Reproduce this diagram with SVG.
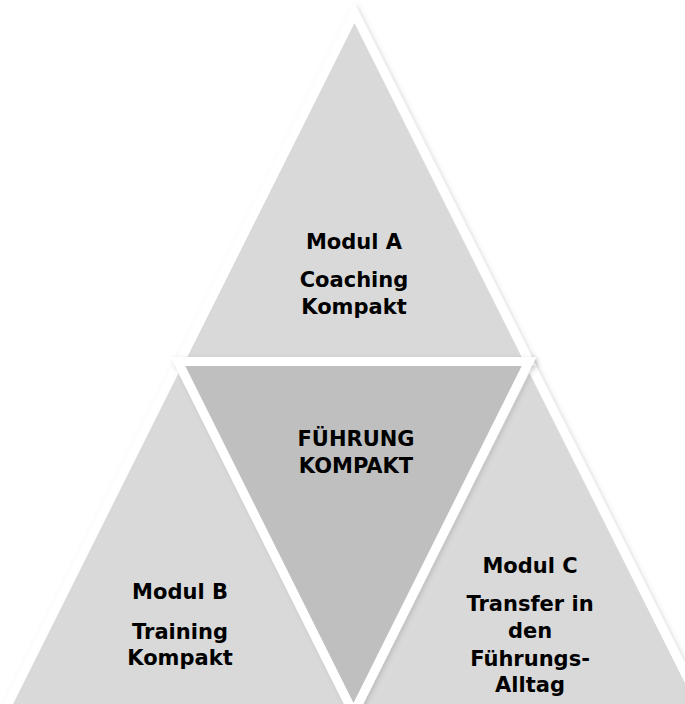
<svg xmlns="http://www.w3.org/2000/svg" width="685" height="704" viewBox="0 0 685 704">
  <defs>
    <filter id="shadow" x="-10%" y="-10%" width="120%" height="120%">
      <feDropShadow dx="2" dy="1.5" stdDeviation="2.5" flood-color="#000" flood-opacity="0.15"/>
    </filter>
  </defs>
  <style>
    .tri { stroke: #ffffff; stroke-width: 9; stroke-linejoin: miter; stroke-miterlimit: 10; filter: url(#shadow); }
    .light { fill: #d9d9d9; }
    .dark { fill: #bfbfbf; }
    .lbl { font-family: "DejaVu Sans", "Liberation Sans", sans-serif; font-weight: bold; font-size: 21px; fill: #000000; text-anchor: middle; }
  </style>
  <rect x="0" y="0" width="685" height="704" fill="#ffffff"/>
  <g id="connectors"/>
  <g id="modul-b">
    <polygon class="tri light" points="178.5,363 3.5,713 353.5,713"/>
    <text class="lbl" x="180" y="599">Modul B</text>
    <text class="lbl" x="180" y="639">Training</text>
    <text class="lbl" x="180" y="665">Kompakt</text>
  </g>
  <g id="modul-c">
    <polygon class="tri light" points="529.5,363 354,713 705,713"/>
    <text class="lbl" x="530" y="573">Modul C</text>
    <text class="lbl" x="530" y="611">Transfer in</text>
    <text class="lbl" x="530" y="638">den</text>
    <text class="lbl" x="530" y="666">Führungs-</text>
    <text class="lbl" x="530" y="692">Alltag</text>
  </g>
  <g id="modul-a">
    <polygon class="tri light" points="354.5,13 180,361.5 529,361.5"/>
    <text class="lbl" x="354" y="249">Modul A</text>
    <text class="lbl" x="354" y="287">Coaching</text>
    <text class="lbl" x="354" y="314">Kompakt</text>
  </g>
  <g id="fuehrung">
    <polygon class="tri dark" points="178,361.5 529,361.5 353.5,713"/>
    <text class="lbl" x="356" y="446">FÜHRUNG</text>
    <text class="lbl" x="356" y="473">KOMPAKT</text>
  </g>
</svg>
